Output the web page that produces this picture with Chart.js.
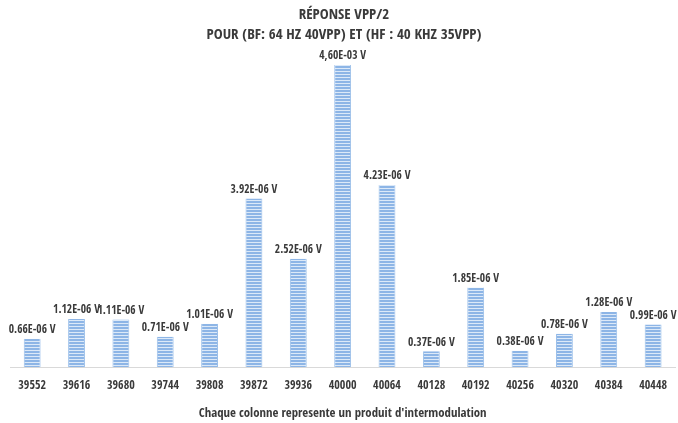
<!DOCTYPE html>
<html>
<head>
<meta charset="utf-8">
<script src="https://cdn.jsdelivr.net/npm/chart.js@4"></script>
<style>
  body { margin: 0; background: #fff; }
  #wrap { width: 678px; height: 423px; }
</style>
</head>
<body>
<div id="wrap"><canvas id="myChart" width="678" height="423"></canvas></div>
<script>
// frequencies (Hz)
const categories = ["39552", "39616", "39680", "39744", "39808", "39872", "39936", "40000",
  "40064", "40128", "40192", "40256", "40320", "40384", "40448"];
// bar heights as drawn (in 1E-06 V units, the 40000 bar is drawn shorter than its label)
const barHeights = [0.66, 1.12, 1.11, 0.71, 1.01, 3.92, 2.52, 7.02, 4.23, 0.37, 1.85, 0.38, 0.78, 1.28, 0.99];
// labels printed above the bars
const valueLabels = ["0.66E-06 V", "1.12E-06 V", "1.11E-06 V", "0.71E-06 V", "1.01E-06 V", "3.92E-06 V",
  "2.52E-06 V", "4,60E-03 V", "4.23E-06 V", "0.37E-06 V", "1.85E-06 V", "0.38E-06 V", "0.78E-06 V",
  "1.28E-06 V", "0.99E-06 V"];

const FONT = "'Open Sans Condensed', 'Roboto Condensed', sans-serif";
const TXT = "#3a3a3a";

// striped fill like the original
function stripes() {
  const c = document.createElement("canvas");
  c.width = 4;
  c.height = 3;
  const g = c.getContext("2d");
  g.fillStyle = "#8db5e6";
  g.fillRect(0, 0, 4, 2);
  g.fillStyle = "#dce9f8";
  g.fillRect(0, 2, 4, 1);
  return g.createPattern(c, "repeat");
}

const barLabels = {
  id: "barLabels",
  afterDatasetsDraw(chart) {
    const ctx = chart.ctx;
    const meta = chart.getDatasetMeta(0);
    ctx.save();
    ctx.font = "bold 11.5px " + FONT;
    ctx.fillStyle = TXT;
    ctx.textAlign = "center";
    ctx.textBaseline = "bottom";
    meta.data.forEach((bar, i) => {
      ctx.fillText(valueLabels[i], bar.x, bar.y - 3);
    });
    ctx.restore();
  },
};

var ctx = document.getElementById("myChart").getContext("2d");
var myChart = new Chart(ctx, {
  type: "bar",
  data: {
    labels: categories,
    datasets: [
      {
        data: barHeights,
        backgroundColor: stripes(),
        borderColor: "#9cc0ea",
        borderWidth: { left: 1, right: 1, top: 0, bottom: 0 },
        categoryPercentage: 1,
        barPercentage: 0.38,
      },
    ],
  },
  options: {
    responsive: false,
    animation: false,
    devicePixelRatio: 1,
    layout: { padding: { left: 10, right: 0, top: 0, bottom: 2 } },
    scales: {
      x: {
        grid: { display: false, drawTicks: false },
        border: { display: true, color: "#d9d9d9", width: 1 },
        ticks: {
          color: TXT,
          font: { family: FONT, size: 12, weight: "bold" },
          padding: 11,
          maxRotation: 0,
        },
        title: {
          display: true,
          text: "Chaque colonne represente un produit d'intermodulation",
          color: TXT,
          font: { family: FONT, size: 12.8, weight: "bold" },
          padding: { top: 2, bottom: 0 },
        },
      },
      y: {
        display: false,
        min: 0,
        max: 7.02,
      },
    },
    plugins: {
      legend: { display: false },
      tooltip: { enabled: false },
      title: {
        display: true,
        text: ["RÉPONSE VPP/2", "POUR (BF: 64 HZ 40VPP) ET (HF : 40 KHZ 35VPP)"],
        color: TXT,
        font: { family: FONT, size: 15, weight: "bold", lineHeight: 1.33 },
        padding: { top: 5, bottom: 20 },
      },
    },
  },
  plugins: [barLabels],
});
</script>
</body>
</html>
